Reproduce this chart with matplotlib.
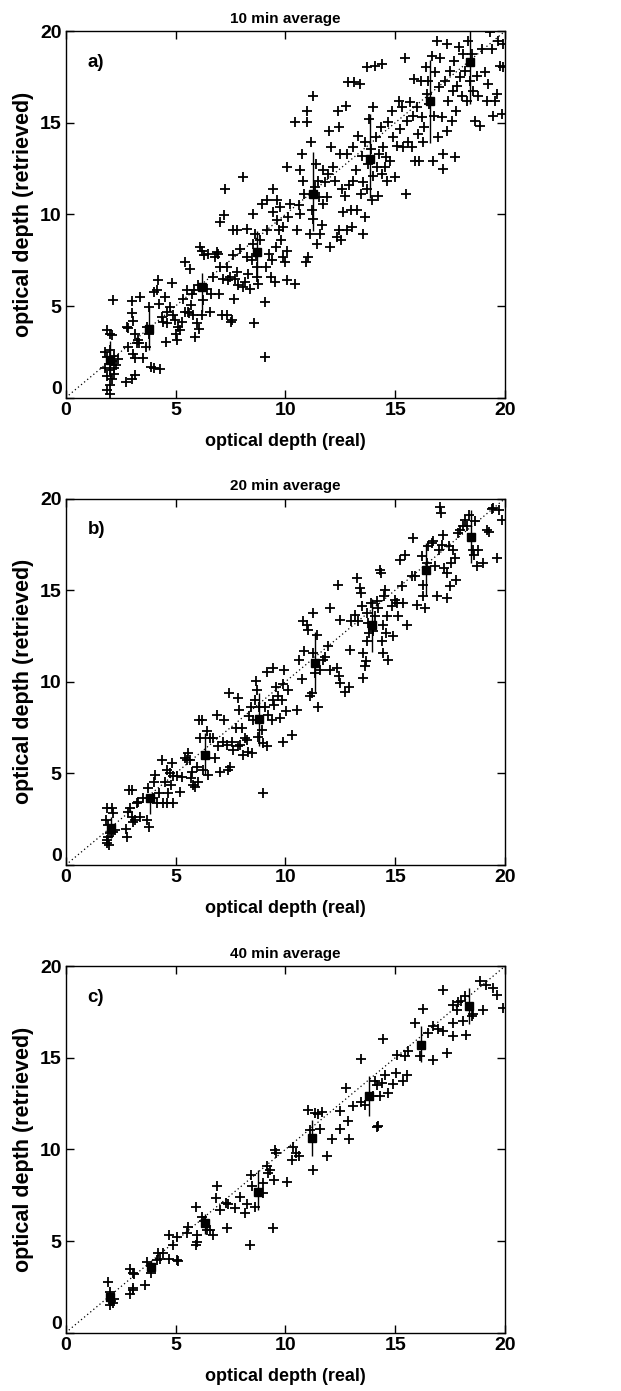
import matplotlib
matplotlib.use('Agg')
import numpy as np
import matplotlib.pyplot as plt

# retrieved vs real optical depth
# panel a) 10 min average
pts_a = np.array([
    (1.9,3.7),(2.0,3.5),(2.1,3.4),(1.8,2.5),(2.0,2.6),(2.2,2.3),(1.9,2.2),(2.1,2.0),(2.3,1.8),(1.8,1.6),
    (2.0,1.5),(2.2,1.3),(1.9,1.2),(2.1,1.0),(2.0,0.7),(1.9,0.4),(2.0,0.2),(2.14,5.35),(2.4,2.1),(2.2,1.6),
    (2.78,3.87),(2.85,3.8),(3.0,4.6),(3.0,5.3),(3.05,4.2),(3.16,3.5),(3.23,2.96),(2.85,2.78),(3.05,2.41),
    (3.16,2.14),(2.75,0.87),(3.16,1.23),(3.0,1.0),(3.38,5.5),(3.35,3.0),(3.54,2.14),(3.28,3.14),(3.64,2.78),
    (3.69,3.87),(3.81,4.95),(3.9,1.69),(4.02,5.77),(4.14,5.86),(4.22,6.4),(4.0,1.6),(4.3,1.54),(3.8,3.5),
    (4.26,5.1),(4.37,4.4),(4.45,4.14),(4.52,5.5),(4.57,3.05),(4.6,4.05),(4.63,4.68),(4.75,4.95),(4.83,6.28),
    (4.9,4.5),(4.98,4.23),(5.02,3.5),(5.05,3.14),(5.13,3.87),(5.2,3.68),(5.28,4.14),(5.33,5.41),(5.43,7.4),
    (5.43,4.68),(5.5,5.86),(5.58,4.68),(5.63,4.6),(5.66,7.04),(5.69,5.05),(5.74,5.68),(5.78,4.5),(5.86,5.86),
    (5.89,3.32),(5.96,4.05),(6.04,6.13),(6.09,3.77),(6.12,8.21),(6.19,8.03),(6.19,4.5),(6.27,5.32),(6.3,7.77),
    (6.42,5.95),(6.5,7.86),(6.57,4.68),(6.62,5.68),(6.72,6.59),(6.8,7.68),(6.87,7.95),(6.95,7.86),(7.0,5.68),
    (7.03,7.13),(7.03,9.58),(7.1,4.5),(7.15,6.5),(7.2,9.95),(7.25,11.4),(7.33,4.5),(7.36,7.13),(7.4,6.4),
    (7.48,6.59),(7.51,4.14),(7.56,4.23),(7.63,7.77),(7.63,9.13),(7.68,5.41),(7.71,6.5),(7.78,6.86),(7.81,9.13),
    (7.86,6.13),(7.94,8.12),(8.06,6.04),(8.09,12.03),(8.16,6.31),(8.24,7.68),(8.27,9.22),(8.31,6.77),(8.39,5.95),
    (8.47,7.5),(8.51,10.04),(8.54,8.4),(8.57,4.05),(8.62,8.95),(8.66,7.86),(8.69,7.13),(8.72,6.59),(8.77,6.22),
    (8.85,8.58),(8.92,10.58),(9.07,2.23),(9.07,5.23),(9.12,7.13),(9.15,9.13),(9.18,10.76),(9.26,7.86),(9.33,6.59),
    (9.38,7.5),(9.45,10.13),(9.45,11.4),(9.53,6.31),(9.57,8.21),(9.6,9.67),(9.63,10.76),(9.73,9.13),(9.76,10.4),
    (9.8,8.58),(9.88,9.31),(9.91,7.68),(9.98,7.4),(10.06,6.4),(10.09,8.03),(10.14,9.86),(10.06,12.58),(10.21,10.58),
    (10.44,6.22),(10.44,15.02),(10.52,9.13),(10.6,10.49),(10.67,10.04),(10.67,12.4),(10.74,13.3),(10.79,11.85),
    (10.85,11.13),(10.94,7.4),(10.97,15.02),(11.0,15.66),(11.05,7.68),(11.12,8.95),(11.15,13.94),(11.2,10.22),
    (11.24,9.76),(11.27,16.47),(11.35,11.49),(11.39,12.76),(11.42,8.4),(11.5,11.85),(11.55,10.94),(11.6,8.95),
    (11.65,9.4),(11.7,10.58),(11.73,12.4),(11.8,11.76),(11.88,10.94),(11.95,12.21),(12.0,14.56),(12.03,8.22),
    (12.06,13.67),(12.15,12.58),(12.26,11.85),(12.34,8.77),(12.41,15.66),(12.46,14.75),(12.46,9.13),(12.49,13.3),
    (12.52,8.58),(12.56,11.4),(12.61,10.13),(12.72,11.03),(12.76,15.93),(12.79,13.3),(12.82,9.13),(12.87,17.2),
    (12.92,11.58),(12.98,10.22),(13.02,9.31),(13.07,11.85),(13.1,13.67),(13.13,17.2),(13.22,12.4),(13.28,10.22),
    (13.32,14.3),(13.4,17.11),(13.43,11.13),(13.47,13.21),(13.52,11.76),(13.55,8.95),(13.63,9.86),(13.64,13.94),
    (13.7,18.02),(13.73,11.4),(13.78,12.76),(13.82,15.2),(13.88,13.58),(13.93,10.76),(13.97,15.84),(14.0,12.12),
    (14.08,18.11),(14.13,14.2),(14.16,12.58),(14.23,11.03),(14.28,13.3),(14.34,14.75),(14.39,12.21),(14.42,18.2),
    (14.46,13.67),(14.54,12.58),(14.58,13.12),(14.64,11.85),(14.69,15.02),(14.76,12.94),(14.84,15.66),(14.92,14.2),
    (15.0,12.03),(15.07,13.76),(15.19,16.2),(15.22,14.66),(15.3,15.84),(15.37,13.67),(15.45,18.56),(15.49,11.13),
    (15.55,15.11),(15.6,13.94),(15.67,16.11),(15.75,13.67),(15.8,15.38),(15.86,17.39),(15.9,12.94),(15.98,15.84),
    (16.05,14.39),(16.1,12.94),(16.16,17.3),(16.21,15.29),(16.28,13.94),(16.31,14.75),(16.4,18.02),(16.43,16.57),
    (16.51,17.3),(16.56,16.02),(16.66,18.66),(16.71,12.94),(16.77,15.38),(16.81,17.75),(16.89,19.47),(16.97,14.2),
    (17.01,16.93),(17.04,18.56),(17.12,15.29),(17.17,13.3),(17.19,12.49),(17.26,17.3),(17.34,19.29),(17.37,14.57),
    (17.41,16.2),(17.5,17.84),(17.57,15.11),(17.62,16.75),(17.68,18.38),(17.72,13.12),(17.77,15.66),(17.83,17.02),
    (17.92,19.11),(17.95,17.48),(18.03,16.48),(18.07,18.75),(18.18,17.84),(18.25,16.2),(18.33,19.47),(18.4,17.3),
    (18.48,18.75),(18.56,16.75),(18.63,15.11),(18.71,17.57),(18.78,16.48),(18.86,14.84),(18.94,19.02),(19.09,17.75),
    (19.16,16.2),(19.24,17.11),(19.32,19.93),(19.39,19.02),(19.47,15.38),(19.54,16.2),(19.62,16.57),(19.7,19.47),
    (19.77,18.11),(19.85,15.47),(19.89,18.02),(19.92,19.29),
])

# panel b) 20 min average
pts_b = np.array([
    (1.87,3.1),(2.09,3.1),(2.17,2.82),(1.84,2.46),(1.94,2.19),(2.02,1.73),(2.17,1.82),(2.25,1.91),(1.94,1.55),
    (1.87,1.37),(1.99,1.09),(1.9,1.18),(2.75,1.95),(2.78,1.55),(2.85,2.91),(2.9,4.1),(3.0,4.1),(2.93,3.1),
    (3.0,2.64),(3.08,2.37),(3.16,2.46),(3.23,3.37),(3.31,3.46),(3.38,2.64),(3.54,3.64),(3.69,2.46),(3.81,2.09),
    (3.76,4.19),(3.96,3.64),(4.02,4.55),(4.07,4.92),(4.14,3.37),(4.26,3.92),(4.37,5.74),(4.45,3.37),(4.52,4.55),
    (4.6,5.19),(4.63,3.37),(4.67,3.92),(4.75,5.01),(4.78,4.37),(4.83,5.56),(4.87,3.37),(4.9,4.86),(5.05,4.86),
    (5.2,4.01),(5.28,4.83),(5.43,5.83),(5.5,5.74),(5.58,6.1),(5.66,5.74),(5.69,4.74),(5.74,5.1),(5.81,4.37),
    (5.89,4.28),(5.96,5.37),(6.04,4.55),(6.09,7.92),(6.12,6.92),(6.19,7.92),(6.27,5.19),(6.42,7.29),(6.5,4.92),
    (6.57,6.92),(6.72,6.92),(6.8,5.83),(6.87,8.2),(6.95,6.47),(7.03,5.1),(7.15,6.74),(7.2,7.92),(7.33,6.56),
    (7.4,5.19),(7.45,9.38),(7.48,5.37),(7.56,6.74),(7.63,6.28),(7.75,7.47),(7.83,6.47),(7.86,9.11),(7.9,8.47),
    (7.94,6.56),(8.02,7.47),(8.09,6.01),(8.16,6.92),(8.24,6.83),(8.31,6.19),(8.36,8.11),(8.42,8.65),(8.47,6.1),
    (8.54,7.92),(8.62,9.02),(8.66,10.02),(8.73,9.56),(8.77,7.01),(8.82,8.65),(8.92,7.38),(9.0,3.92),(9.0,6.65),
    (9.07,8.65),(9.15,6.47),(9.15,10.56),(9.23,8.2),(9.38,7.92),(9.42,9.02),(9.45,10.75),(9.48,8.74),(9.57,9.74),
    (9.68,9.2),(9.76,8.02),(9.83,9.02),(9.88,9.89),(9.91,6.74),(9.94,10.66),(10.03,8.38),(10.14,9.56),(10.29,7.1),
    (10.52,8.47),(10.6,11.2),(10.74,10.15),(10.82,13.3),(10.85,11.66),(10.97,13.11),(11.05,12.84),(11.12,9.2),
    (11.2,9.38),(11.24,13.75),(11.27,11.57),(11.35,10.47),(11.42,12.57),(11.5,8.65),(11.6,10.66),(11.73,11.2),
    (11.8,11.38),(11.95,11.93),(12.03,14.03),(12.03,10.62),(12.34,10.75),(12.41,15.3),(12.46,10.29),(12.49,13.39),
    (12.49,9.93),(12.72,9.47),(12.92,9.74),(12.94,11.75),(12.99,13.3),(13.17,13.66),(13.25,15.66),(13.32,13.3),
    (13.4,15.12),(13.43,14.85),(13.47,14.12),(13.52,11.57),(13.55,10.2),(13.63,10.84),(13.67,11.11),(13.7,12.2),
    (13.73,13.75),(13.78,13.21),(13.82,12.66),(13.88,14.3),(13.99,12.75),(14.08,13.57),(14.16,14.39),(14.23,14.03),
    (14.31,16.12),(14.34,15.94),(14.39,12.2),(14.43,13.11),(14.46,11.57),(14.49,14.66),(14.54,15.03),(14.58,12.66),
    (14.64,13.57),(14.69,11.2),(14.84,14.12),(14.92,12.48),(15.0,14.48),(15.07,14.3),(15.14,13.57),(15.22,16.67),
    (15.3,15.21),(15.37,14.3),(15.45,16.94),(15.52,13.11),(15.75,15.76),(15.8,17.85),(15.9,15.76),(15.98,14.21),
    (16.21,16.85),(16.25,14.66),(16.28,15.3),(16.36,14.03),(16.43,16.48),(16.51,17.4),(16.66,17.58),(16.74,17.67),
    (16.81,16.3),(16.89,14.66),(17.01,17.21),(17.04,19.54),(17.07,19.22),(17.12,17.49),(17.19,18.03),(17.22,16.21),
    (17.34,15.94),(17.37,14.57),(17.46,17.4),(17.51,15.21),(17.56,16.48),(17.63,17.21),(17.71,16.76),(17.78,15.57),
    (17.86,18.12),(17.95,18.31),(18.1,18.49),(18.18,18.85),(18.25,18.49),(18.37,19.12),(18.56,17.21),(18.59,16.94),
    (18.63,18.76),(18.71,16.3),(18.78,17.21),(19.01,16.48),(19.19,18.31),(19.28,18.16),(19.39,19.44),(19.47,19.5),
    (19.65,16.76),(19.72,19.36),(19.86,18.85),
])

# panel c) 40 min average
pts_c = np.array([
    (1.91,2.75),(2.0,2.2),(2.08,1.75),(2.15,1.6),(2.0,1.5),(2.2,1.85),(2.93,3.46),(3.08,3.24),(3.12,3.2),
    (2.93,2.11),(3.08,2.42),(3.05,2.35),(3.61,2.6),(3.69,3.84),(3.9,3.24),(4.14,3.97),(4.22,4.37),(4.45,4.37),
    (4.3,4.0),(4.7,4.0),(4.72,5.34),(4.9,4.8),(5.05,5.24),(5.05,3.97),(5.1,3.9),(5.5,5.43),(5.58,5.79),
    (5.93,6.85),(5.96,4.97),(5.93,4.8),(5.96,5.34),(6.19,6.34),(6.3,6.1),(6.42,5.6),(6.57,5.61),(6.69,5.34),
    (6.87,7.98),(6.84,7.34),(7.03,6.7),(7.3,7.07),(7.4,7.0),(7.33,5.7),(7.71,6.79),(7.94,7.43),(8.24,7.03),
    (8.16,6.52),(8.39,4.79),(8.42,8.62),(8.47,7.98),(8.62,6.88),(9.0,8.16),(9.0,7.61),(9.15,9.07),(9.22,8.7),
    (9.3,8.9),(9.48,8.34),(9.42,5.7),(9.53,9.98),(9.57,9.8),(10.06,8.25),(10.29,9.43),(10.36,10.16),(10.5,9.8),
    (10.64,9.65),(11.05,12.17),(11.12,11.07),(11.27,8.89),(11.35,11.99),(11.5,11.95),(11.65,12.02),(11.58,11.11),
    (11.88,9.65),(12.14,10.56),(12.49,12.11),(12.49,11.11),(12.76,13.35),(12.87,11.53),(12.9,10.56),(13.1,12.35),
    (13.43,14.94),(13.43,12.57),(13.63,12.44),(13.97,12.9),(14.08,13.72),(14.16,13.5),(14.23,11.26),(14.16,11.2),
    (14.31,12.9),(14.38,13.65),(14.46,16.03),(14.54,14.08),(14.69,13.08),(14.92,13.57),(15.04,14.17),(15.1,15.17),
    (15.37,13.72),(15.45,15.12),(15.52,14.08),(15.6,15.39),(15.9,16.9),(16.13,15.08),(16.25,17.67),(16.51,16.36),
    (16.74,16.76),(16.71,14.9),(16.97,16.58),(17.17,16.49),(17.17,18.72),(17.34,15.26),(17.62,16.17),(17.65,16.9),
    (17.65,17.9),(17.83,17.63),(17.87,18.03),(17.98,18.12),(18.07,16.99),(18.18,18.36),(18.22,16.27),(18.48,17.27),
    (18.56,17.4),(18.86,19.18),(19.01,17.63),(19.13,19.0),(19.47,18.82),(19.62,18.45),(19.89,17.72),
])

# bin means with their spread (x, y, low, high)
means_a = np.array([(2.0,2.05,1.0,3.1),(3.81,3.77,2.6,5.0),(6.19,6.04,4.7,6.8),(8.7,7.95,6.6,9.1),
                    (11.27,11.12,9.1,13.4),(13.85,13.03,10.9,15.5),(16.59,16.2,13.9,18.4),(18.4,18.3,16.0,20.0)])
means_b = np.array([(2.06,2.0,1.5,2.6),(3.84,3.64,2.8,3.9),(6.34,6.01,4.9,7.2),(8.82,7.96,6.5,9.4),
                    (11.35,11.02,9.4,12.7),(13.93,13.08,11.6,14.5),(16.4,16.12,14.7,17.6),(18.45,17.9,16.5,19.4)])
means_c = np.array([(2.0,1.97,1.7,2.3),(3.87,3.6,3.3,3.9),(6.34,5.97,5.4,6.5),(8.77,7.7,6.7,8.89),
                    (11.2,10.62,9.62,11.62),(13.82,12.9,11.8,14.0),(16.16,15.72,14.75,16.76),(18.37,17.85,16.87,18.8)])

titles = ['10 min average', '20 min average', '40 min average']
tags = ['a)', 'b)', 'c)']
ticks = [0, 5, 10, 15, 20]

plt.rcParams['font.family'] = ['Liberation Sans', 'DejaVu Sans']
plt.rcParams['font.weight'] = 'bold'

fig = plt.figure(figsize=(6.21, 13.91), dpi=100)
bottoms = [0.7141, 0.3781, 0.0419]

for pts, means, title, tag, b in zip([pts_a, pts_b, pts_c], [means_a, means_b, means_c], titles, tags, bottoms):
    ax = fig.add_axes([0.1058, b, 0.7074, 0.2635])
    ax.plot([0, 20], [0, 20], ls=(0, (1, 2.2)), color='k', lw=0.9)
    ax.vlines(means[:, 0], means[:, 2], means[:, 3], color='k', lw=1.0)
    ax.scatter(pts[:, 0], pts[:, 1], marker='+', s=48, c='k', linewidths=1.3)
    ax.plot(means[:, 0], means[:, 1], 's', color='k', ms=5.5)
    ax.set_xlim(0, 20)
    ax.set_ylim(0, 20)
    ax.set_xticks(ticks)
    ax.set_yticks(ticks)
    ax.tick_params(direction='in', length=6, width=1, top=True, right=True, labelsize=14, pad=3)
    ax.get_yticklabels()[0].set_va('bottom')
    for s in ax.spines.values():
        s.set_linewidth(1.0)
    ax.set_title(title, fontsize=11, fontweight='bold', pad=6)
    ax.text(1.0, 18.3, tag, fontsize=13.5, fontweight='bold', ha='left', va='center')
    ax.set_xlabel('optical depth (real)', fontsize=13, fontweight='bold', labelpad=10)
    ax.set_ylabel('optical depth (retrieved)', fontsize=15.5, fontweight='bold', labelpad=4)

fig.savefig('out.png', dpi=100)
